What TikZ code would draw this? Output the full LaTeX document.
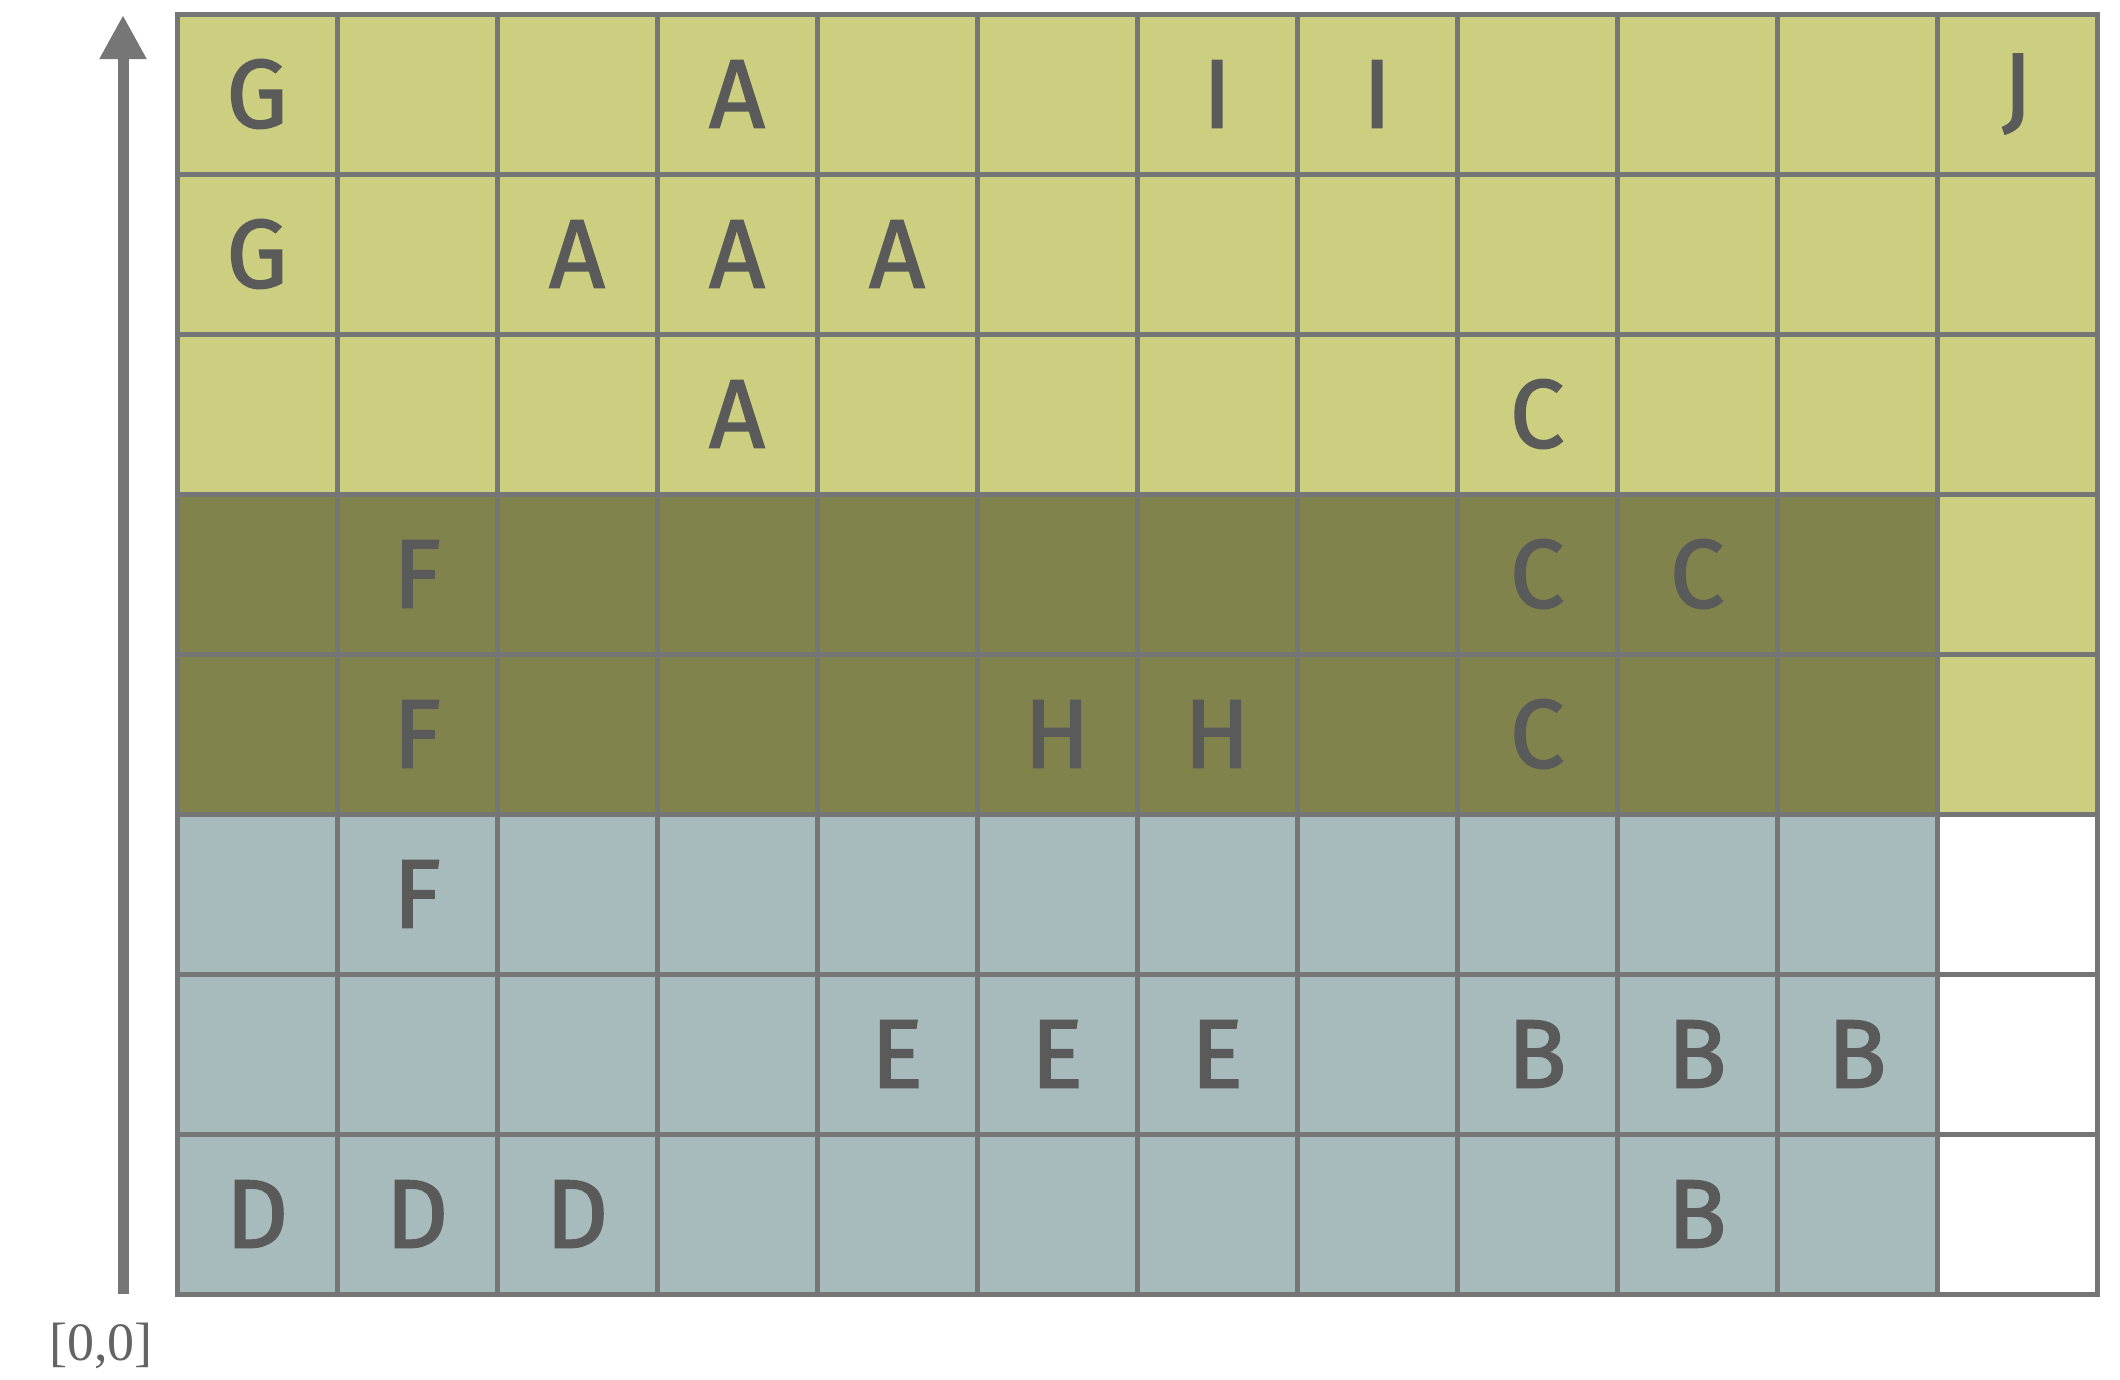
\documentclass[tikz,border=0pt]{standalone}
\usepackage{fontspec}
\setmainfont{Liberation Serif}
\newfontfamily\cellfont{Fira Sans}[UprightFeatures={FakeBold=1.8}]
\usetikzlibrary{arrows.meta}
\definecolor{lightolive}{RGB}{204,207,128}
\definecolor{darkolive}{RGB}{128,131,76}
\definecolor{bluegray}{RGB}{167,187,189}
\definecolor{gridgray}{RGB}{118,118,118}
\definecolor{lettergray}{RGB}{90,90,90}
\definecolor{labelgray}{RGB}{100,100,100}
\tikzset{
  cell/.style={draw=gridgray, line width=5pt, minimum size=160pt, inner sep=0pt,
    text=lettergray, font=\cellfont\fontsize{97}{97}\selectfont},
  axis/.style={draw=gridgray, line width=11pt, -{Triangle[width=44pt,length=44pt]}, gridgray},
  originlabel/.style={inner sep=0pt, text=labelgray, font=\fontsize{54}{54}\selectfont}
}
\begin{document}
\begin{tikzpicture}[x=1pt,y=-1pt]
\useasboundingbox (0,0) rectangle (2120,1379);
\foreach \r/\row in {1/{G,,,A,,,I,I,,,,J},2/{G,,A,A,A,,,,,,,},3/{,,,A,,,,,C,,,},4/{,F,,,,,,,C,C,,},5/{,F,,,,H,H,,C,,,},6/{,F,,,,,,,,,,},7/{,,,,E,E,E,,B,B,B,},8/{D,D,D,,,,,,,B,,}}{
  \foreach \l [count=\c] in \row {
    \ifnum\r<4 \def\fc{lightolive}\else
      \ifnum\c<12
        \ifnum\r<6 \def\fc{darkolive}\else\def\fc{bluegray}\fi
      \else
        \ifnum\r<6 \def\fc{lightolive}\else\def\fc{white}\fi
      \fi
    \fi
    \node[cell, fill=\fc] (cell-\r-\c) at ({97+160*\c},{-66+160*\r}) {\l};
  }
}
\coordinate (origin) at (123,1294);
\coordinate (top) at (123,15);
\draw[axis] (origin) -- (top);
\node[originlabel] (lbl) at (101,1346) {[0,0]};
\end{tikzpicture}
\end{document}
